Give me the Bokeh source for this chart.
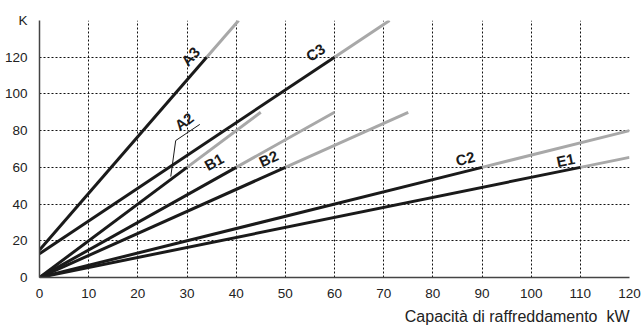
import math
from bokeh.plotting import figure
from bokeh.models import ColumnDataSource, FixedTicker, Range1d, Title
from bokeh.core.properties import value
from bokeh.embed import file_html
from bokeh.resources import INLINE

# ---- data ----
names = ["A3", "C3", "A2", "B1", "B2", "C2", "E1"]
start_y = [15, 13, 0, 0, 0, 0, 0]          # K at 0 kW
black_end_x = [34, 60, 30, 40, 50, 90, 110]  # kW
black_end_y = [120, 120, 60, 60, 60, 60, 60]  # K
gray_end_x = [40.5, 71.2, 45, 60, 75, 120, 120]
gray_end_y = [140, 140, 90, 90, 90, 80, 65.45]

label_x = [30.7, 56.1, 29.4, 35.5, 46.6, 86.6, 107.0]
label_y = [120.5, 122.7, 85.0, 63.0, 64.8, 64.8, 64.0]

leader_x = [32.6, 27.7, 26.7]
leader_y = [83.4, 74.6, 55.0]

x_ticks = list(range(0, 121, 10))
y_ticks = list(range(0, 141, 20))
x_title = "Capacità di raffreddamento\u00a0\u00a0kW"

FONT = "Liberation Sans"
FRAME_W, FRAME_H = 590, 257

p = figure(width=641, height=335, output_backend="svg", toolbar_location=None,
           x_range=Range1d(0, 120), y_range=Range1d(0, 140),
           frame_width=FRAME_W, frame_height=FRAME_H,
           min_border_left=39, min_border_right=12, min_border_top=20,
           min_border_bottom=58)
p.outline_line_color = None
p.background_fill_color = "white"

for ax in (p.xaxis, p.yaxis):
    ax.major_tick_line_color = None
    ax.minor_tick_line_color = None
    ax.axis_line_color = "#444444"
    ax.axis_line_width = 1.5
    ax.major_label_text_font = FONT
    ax.major_label_text_font_size = "13.5px"
    ax.major_label_text_color = "#222222"
p.xaxis.ticker = FixedTicker(ticks=x_ticks)
p.yaxis.ticker = FixedTicker(ticks=y_ticks)
p.yaxis.major_label_overrides = {140: "K"}
p.xaxis.major_label_standoff = 5
p.yaxis.major_label_standoff = 6

for g, t in ((p.xgrid, x_ticks), (p.ygrid, y_ticks)):
    g.ticker = FixedTicker(ticks=t)
    g.grid_line_color = "#111111"
    g.grid_line_dash = "2 2"
    g.grid_line_width = 1

src = ColumnDataSource(dict(name=names, x0=[0] * len(names), y0=start_y,
                            x1=black_end_x, y1=black_end_y,
                            x2=gray_end_x, y2=gray_end_y))
p.segment(x0="x1", y0="y1", x1="x2", y1="y2", source=src,
          line_color="#a8a8a8", line_width=3)
p.segment(x0="x0", y0="y0", x1="x1", y1="y1", source=src,
          line_color="#1a1a1a", line_width=3)

# label angles follow each line's slope in screen space
sx = FRAME_W / 120
sy = FRAME_H / 140
angles = [math.atan(((ye - ys) / xe) * sy / sx)
          for ys, xe, ye in zip(start_y, black_end_x, black_end_y)]
p.text(x=label_x, y=label_y, text=names, angle=angles,
       text_font=value(FONT), text_font_style="bold", text_font_size="15px",
       text_color="#1a1a1a", text_align="center", text_baseline="middle")

p.line(leader_x, leader_y, line_color="#1a1a1a", line_width=1)

t = Title(text=x_title, align="right", text_font=FONT, text_font_size="16px",
          text_font_style="normal", text_color="#222222", standoff=10)
p.add_layout(t, "below")

open("out.html", "w").write(file_html(p, INLINE))
